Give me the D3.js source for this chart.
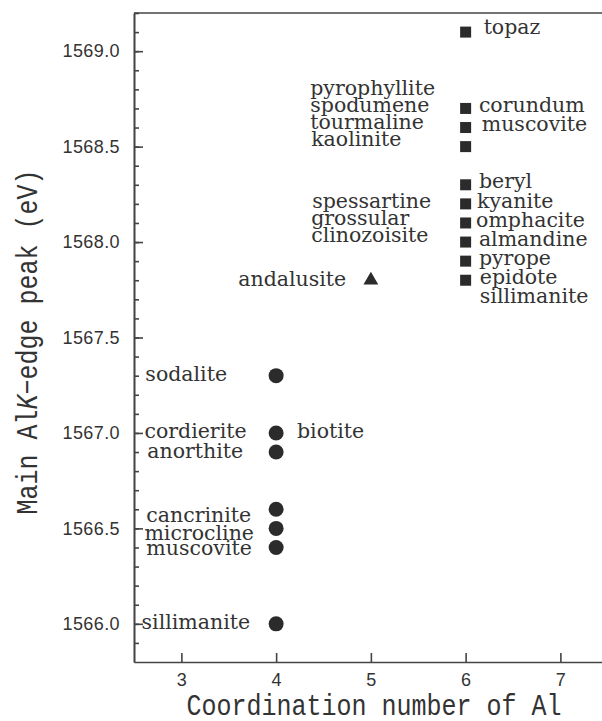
<!DOCTYPE html>
<html>
<head>
<meta charset="utf-8">
<script src="https://cdn.jsdelivr.net/npm/d3@7"></script>
<style>
  body { margin: 0; background: #fff; }
  svg { display: block; }
</style>
</head>
<body>
<svg id="chart" width="602" height="721"></svg>
<script>
// coordination number of Al for each marker group
const circleCN = 4;
const triangleCN = 5;
const squareCN = 6;

// main Al K-edge peak positions (eV)
const circleEnergy = [1567.3, 1567.0, 1566.9, 1566.6, 1566.5, 1566.4, 1566.0];
const triangleEnergy = [1567.8];
const squareEnergy = [1569.1, 1568.7, 1568.6, 1568.5, 1568.3, 1568.2, 1568.1, 1568.0, 1567.9, 1567.8];

// mineral names and where their text starts (coordination number, energy)
const labelNames = [
  "sodalite", "cordierite", "anorthite", "cancrinite", "microcline", "muscovite", "sillimanite",
  "biotite", "andalusite",
  "pyrophyllite", "spodumene", "tourmaline", "kaolinite",
  "spessartine", "grossular", "clinozoisite",
  "topaz", "corundum", "muscovite",
  "beryl", "kyanite", "omphacite", "almandine", "pyrope", "epidote", "sillimanite"
];
const labelCN = [
  2.62, 2.61, 2.64, 2.63, 2.61, 2.63, 2.58,
  4.22, 3.60,
  4.36, 4.36, 4.36, 4.37,
  4.38, 4.37, 4.37,
  6.19, 6.14, 6.17,
  6.14, 6.12, 6.11, 6.14, 6.14, 6.15, 6.15
];
const labelEnergy = [
  1567.3, 1567.0, 1566.9, 1566.56, 1566.47, 1566.39, 1566.0,
  1567.0, 1567.8,
  1568.8, 1568.71, 1568.62, 1568.53,
  1568.21, 1568.12, 1568.03,
  1569.12, 1568.71, 1568.61,
  1568.31, 1568.21, 1568.11, 1568.01, 1567.91, 1567.81, 1567.71
];

const xTicks = [3, 4, 5, 6, 7];
const yMajorTicks = [1566.0, 1566.5, 1567.0, 1567.5, 1568.0, 1568.5, 1569.0];
const yMinorTicks = d3.range(15659, 15693).map((d) => d / 10);

const margin = { top: 13, left: 134 },
  plotBottom = 662,
  plotRight = 607.75;

const ink = "#2b2b2b";
const axisInk = "#444";
const textInk = "#333";

const svg = d3.select("#chart");

const x = d3.scaleLinear().domain([2.5, 7.5]).range([margin.left, plotRight]);
const y = d3.scaleLinear().domain([1565.8, 1569.2]).range([plotBottom, margin.top]);

// top frame line
svg
  .append("line")
  .attr("x1", margin.left)
  .attr("x2", 602)
  .attr("y1", margin.top)
  .attr("y2", margin.top)
  .style("stroke", axisInk)
  .style("stroke-width", 1.6);

// y axis: minor ticks first, then major ticks with labels
svg
  .append("g")
  .attr("class", "axis axis--y-minor")
  .attr("transform", `translate(${margin.left},0)`)
  .call(d3.axisLeft(y).tickValues(yMinorTicks).tickSizeInner(-5).tickSizeOuter(0).tickFormat(""));

svg
  .append("g")
  .attr("class", "axis axis--y")
  .attr("transform", `translate(${margin.left},0)`)
  .call(
    d3
      .axisLeft(y)
      .tickValues(yMajorTicks)
      .tickSizeInner(-9)
      .tickSizeOuter(0)
      .tickPadding(14)
      .tickFormat(d3.format(".1f"))
  );

svg
  .append("g")
  .attr("class", "axis axis--x")
  .attr("transform", `translate(0,${plotBottom})`)
  .call(
    d3
      .axisBottom(x)
      .tickValues(xTicks)
      .tickSizeInner(-9)
      .tickSizeOuter(0)
      .tickPadding(11)
      .tickFormat(d3.format("d"))
  );

svg.selectAll(".axis path, .axis line").style("stroke", axisInk).style("stroke-width", 1.6);
svg
  .selectAll(".axis text")
  .style("font-family", "'Liberation Sans', Arial, sans-serif")
  .style("font-size", "18px")
  .style("letter-spacing", "0.4px")
  .style("fill", textInk);

// markers
svg
  .selectAll(".dot")
  .data(circleEnergy)
  .enter()
  .append("circle")
  .attr("class", "dot")
  .attr("cx", x(circleCN))
  .attr("cy", (d) => y(d))
  .attr("r", 7.5)
  .style("fill", ink);

svg
  .selectAll(".tri")
  .data(triangleEnergy)
  .enter()
  .append("path")
  .attr("class", "tri")
  .attr("d", d3.symbol(d3.symbolTriangle, 95))
  .attr("transform", (d) => `translate(${x(triangleCN)},${y(d)})`)
  .style("fill", ink);

svg
  .selectAll(".sq")
  .data(squareEnergy)
  .enter()
  .append("rect")
  .attr("class", "sq")
  .attr("x", x(squareCN) - 5.5)
  .attr("y", (d) => y(d) - 5.5)
  .attr("width", 11)
  .attr("height", 11)
  .style("fill", ink);

// mineral labels
svg
  .selectAll(".label")
  .data(labelNames)
  .enter()
  .append("text")
  .attr("class", "label")
  .attr("x", (d, i) => x(labelCN[i]))
  .attr("y", (d, i) => y(labelEnergy[i]))
  .attr("dy", "0.27em")
  .style("font-family", "'DejaVu Serif', serif")
  .style("font-size", "20.5px")
  .style("fill", textInk)
  .text((d) => d);

// axis titles (letters in the original are a bit taller than wide)
svg
  .append("text")
  .attr("transform", "translate(374,715) scale(1,1.18)")
  .style("text-anchor", "middle")
  .style("font-family", "'Liberation Mono', 'Courier New', monospace")
  .style("font-size", "25px")
  .style("fill", textInk)
  .text("Coordination number of Al");

const yTitle = svg
  .append("text")
  .attr("transform", "translate(37,342) rotate(-90) scale(1,1.18)")
  .style("text-anchor", "middle")
  .style("font-family", "'Liberation Mono', 'Courier New', monospace")
  .style("font-size", "25px")
  .style("fill", textInk);
yTitle.append("tspan").text("Main Al");
yTitle.append("tspan").style("font-style", "italic").text("K");
yTitle.append("tspan").text("\u2212edge peak (eV)");
</script>
</body>
</html>
